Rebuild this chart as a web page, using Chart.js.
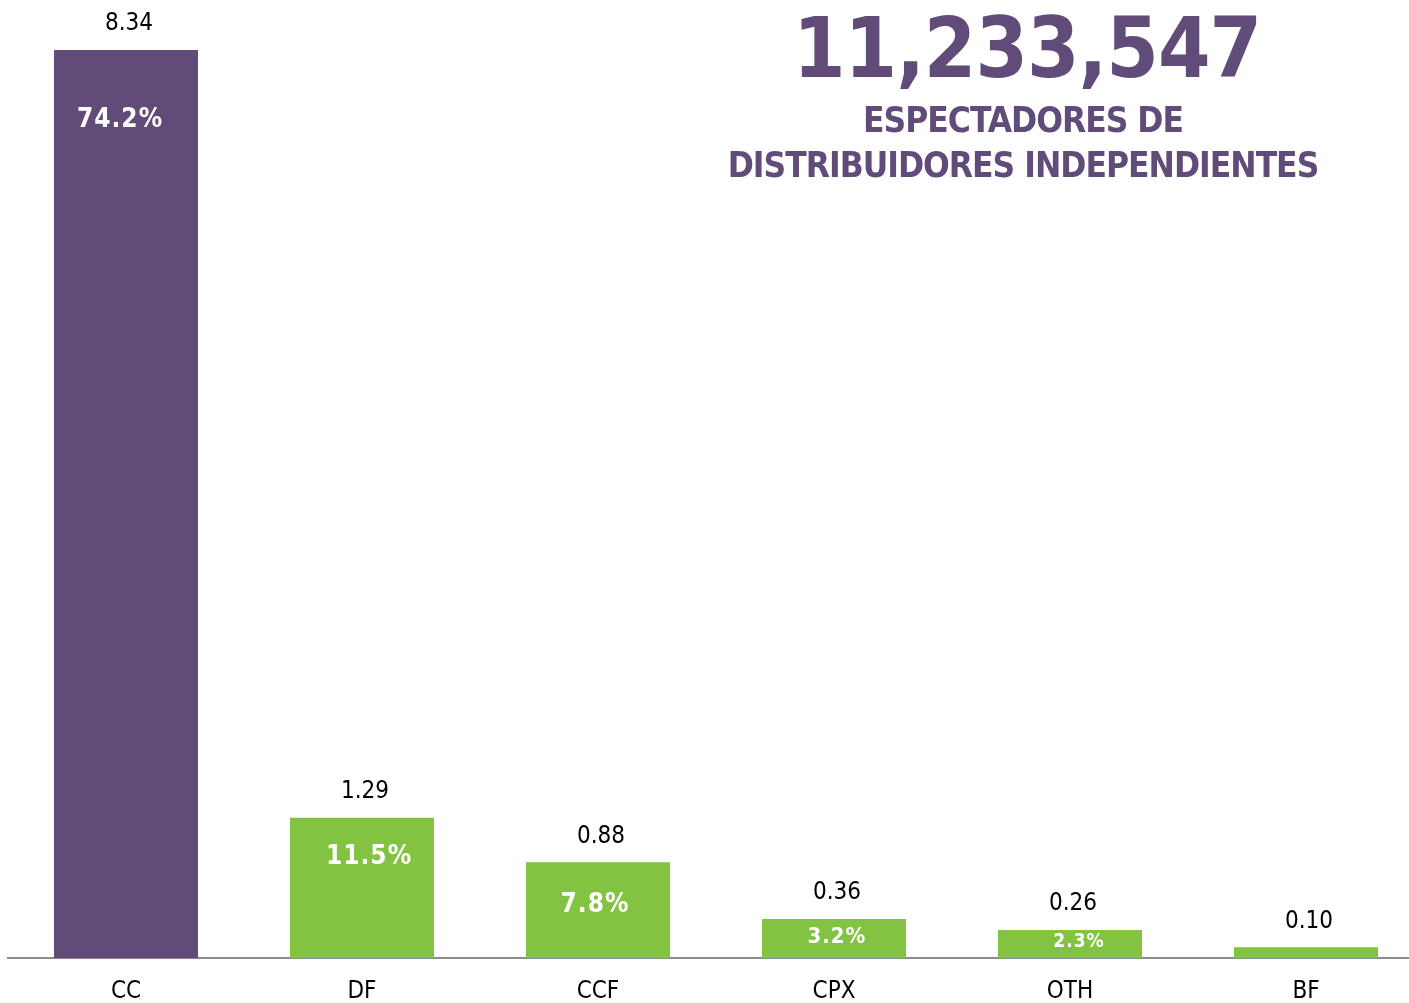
<!DOCTYPE html>
<html>
<head>
<meta charset="utf-8">
<script src="https://cdn.jsdelivr.net/npm/chart.js@4"></script>
<style>
	html, body { margin: 0; padding: 0; background: #fff; overflow: hidden; }
	#wrap { position: relative; width: 1409px; height: 1003px; overflow: hidden; }
	#chart { position: absolute; left: 0; top: 0; }
	.big { position: absolute; transform: translateX(-50%); white-space: nowrap;
		font-family: "DejaVu Sans Condensed", "DejaVu Sans", sans-serif; font-weight: bold; color: #614b79; }
	#total { top: 2px; left: 1027px; font-size: 84px; line-height: 92px; letter-spacing: -1px; }
	#sub1 { top: 98px; left: 1023px; font-size: 35px; line-height: 44px; letter-spacing: -1px; }
	#sub2 { top: 143px; left: 1023px; font-size: 35px; line-height: 44px; letter-spacing: -1px; }
</style>
</head>
<body>
<div id="wrap">
	<canvas id="chart" width="1424" height="1025"></canvas>
	<div class="big" id="total">11,233,547</div>
	<div class="big" id="sub1">ESPECTADORES DE</div>
	<div class="big" id="sub2">DISTRIBUIDORES INDEPENDIENTES</div>
</div>
<script>
const labels = ["CC", "DF", "CCF", "CPX", "OTH", "BF"];
const values = [8.34, 1.29, 0.88, 0.36, 0.26, 0.10];
const shares = ["74.2%", "11.5%", "7.8%", "3.2%", "2.3%", ""];

const purple = "#614b79";
const green = "#82c341";
const fontFamily = '"DejaVu Sans Condensed", "DejaVu Sans", sans-serif';

// percent label style per bar: font size, distance below bar top, horizontal nudge
const shareSize = [26, 26, 26, 22, 19, 0];
const shareDrop = [70, 40, 43, 18, 12, 0];
const shareNudge = [-6, 7, -3, 3, 9, 0];

const barLabels = {
	id: "barLabels",
	afterDatasetsDraw(chart) {
		const ctx = chart.ctx;
		const meta = chart.getDatasetMeta(0);
		ctx.save();
		ctx.textAlign = "center";
		ctx.textBaseline = "middle";
		meta.data.forEach((bar, i) => {
			ctx.fillStyle = "#000";
			ctx.font = "24px " + fontFamily;
			ctx.letterSpacing = "0px";
			ctx.fillText(values[i].toFixed(2), bar.x + 3, bar.y - 26);
			if (shares[i]) {
				ctx.fillStyle = "#fff";
				ctx.font = "bold " + shareSize[i] + "px " + fontFamily;
				ctx.letterSpacing = "1px";
				ctx.fillText(shares[i], bar.x + shareNudge[i], bar.y + shareDrop[i]);
			}
		});
		ctx.restore();
	},
};

new Chart(document.getElementById("chart"), {
	type: "bar",
	data: {
		labels,
		datasets: [
			{
				data: values,
				backgroundColor: values.map((v, i) => (i === 0 ? purple : green)),
				barPercentage: 0.61,
				categoryPercentage: 1,
			},
		],
	},
	options: {
		responsive: false,
		animation: false,
		layout: { padding: { top: 50, left: 8, right: 0, bottom: 0 } },
		plugins: { legend: { display: false }, tooltip: { enabled: false } },
		scales: {
			x: {
				grid: { display: false, drawTicks: false },
				border: { color: "#8c8c8c", width: 2 },
				ticks: { color: "#000", font: { family: fontFamily, size: 24 }, padding: 19 },
			},
			y: {
				display: false,
				min: 0,
				max: 8.34,
			},
		},
	},
	plugins: [barLabels],
});
</script>
</body>
</html>
